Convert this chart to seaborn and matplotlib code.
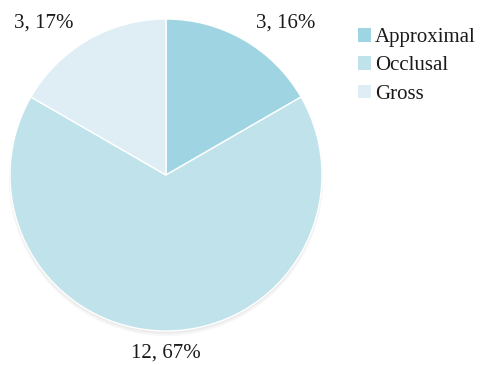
import matplotlib
matplotlib.use("Agg")
import matplotlib.pyplot as plt
from matplotlib.patches import Patch, Circle
import seaborn as sns

categories = ["Approximal", "Occlusal", "Gross"]
counts = [3, 12, 3]
percent_labels = ["16%", "67%", "17%"]
colors = ["#9fd5e3", "#c0e3eb", "#deeef4"]

sns.set_theme(style="white")
plt.rcParams["font.family"] = ["Liberation Serif", "DejaVu Serif"]

W, H = 483, 365
fig = plt.figure(figsize=(W / 100, H / 100), dpi=100)
ax = fig.add_axes([0, 0, 1, 1])

# pie centre and radius in pixels
cx, cy, R = 166, 190, 156

# soft shadow below the pie
for i in range(3):
    ax.add_patch(Circle((0, -0.012 - 0.006 * i), 1.0 + 0.004 * i,
                        color="#777777", alpha=0.05, lw=0, zorder=0))

wedges, _ = ax.pie(counts, colors=colors, startangle=90, counterclock=False,
                   radius=1.0, wedgeprops=dict(edgecolor="white", linewidth=1.0))
for w in wedges:
    w.set_zorder(2)

ax.set_xlim(-cx / R, (W - cx) / R)
ax.set_ylim(-cy / R, (H - cy) / R)
ax.set_aspect("equal")
ax.axis("off")

label_pos = [(0.77, 0.974), (0.0, -1.141), (-0.782, 0.974)]
for (x, y), n, p in zip(label_pos, counts, percent_labels):
    ax.text(x, y, f"{n}, {p}", ha="center", va="center", fontsize=15,
            color="#1a1a1a", zorder=3)

handles = [Patch(facecolor=c, edgecolor="none") for c in colors]
fig.legend(handles, categories, loc="upper left",
           bbox_to_anchor=(358 / W, 1 - 28 / H), frameon=False,
           fontsize=15, handlelength=0.62, handleheight=0.62,
           handletextpad=0.2, labelspacing=0.44, borderaxespad=0,
           borderpad=0, labelcolor="#1a1a1a")

fig.savefig("out.png", dpi=100)
